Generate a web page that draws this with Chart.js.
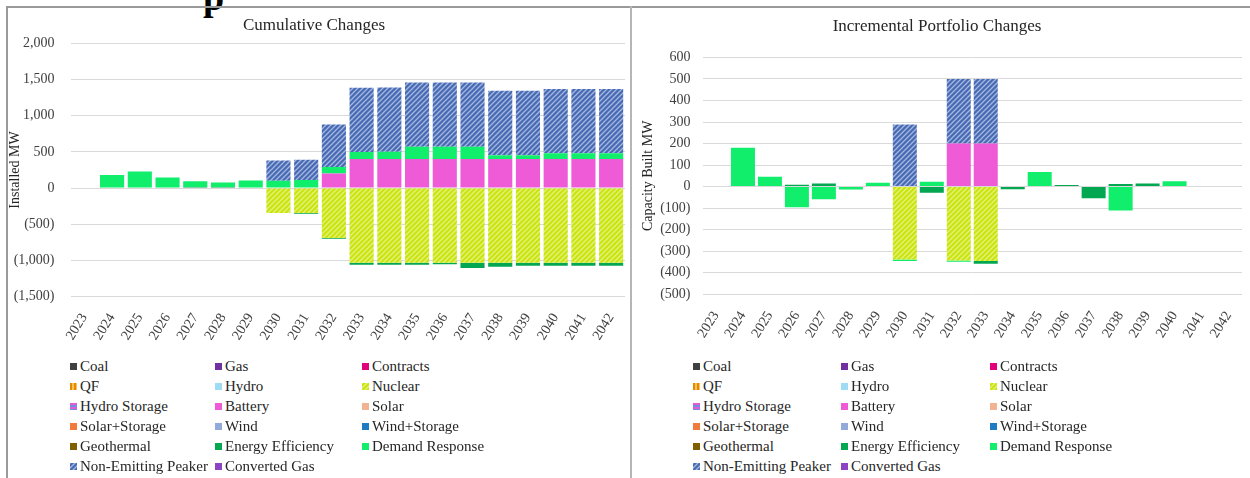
<!DOCTYPE html>
<html>
<head>
<meta charset="utf-8">
<script src="https://cdn.jsdelivr.net/npm/chart.js@4.4.1/dist/chart.umd.min.js"></script>
<style>
    html, body { margin: 0; padding: 0; background: #fff; }
    body { width: 1250px; height: 478px; position: relative; overflow: hidden;
           font-family: 'Liberation Serif', 'Times New Roman', serif; color: #262626; }
    .cut-head { position: absolute; left: 203px; top: -22px; font-size: 38px; font-weight: bold;
                line-height: 38px; color: #000; }
    .line { position: absolute; background: #9a9a9a; }
    canvas.chart { position: absolute; }
    .legend-item { position: absolute; font-size: 15px; line-height: 16px; white-space: nowrap;
                   height: 16px; display: flex; align-items: center; color: #262626; }
    .legend-item canvas { width: 7px; height: 7px; margin-right: 3px; }
</style>
</head>
<body>
<div class="cut-head">p</div>
<div class="line" style="left:6px; top:6px; width:1244px; height:2px;"></div>
<div class="line" style="left:6px; top:6px; width:2px; height:472px;"></div>
<div class="line" style="left:630px; top:6px; width:2px; height:472px; background:#b5b5b5;"></div>

<canvas id="cumulativeChart" class="chart" width="630" height="347" style="left:3px; top:8px;"></canvas>
<canvas id="incrementalChart" class="chart" width="618" height="347" style="left:632px; top:8px;"></canvas>
<div id="legendLeft"></div>
<div id="legendRight"></div>

<script>
'use strict';

const years = ['2023', '2024', '2025', '2026', '2027', '2028', '2029', '2030', '2031', '2032',
               '2033', '2034', '2035', '2036', '2037', '2038', '2039', '2040', '2041', '2042'];

const seriesNames = ['Coal', 'Gas', 'Contracts', 'QF', 'Hydro', 'Nuclear', 'Hydro Storage', 'Battery',
                     'Solar', 'Solar+Storage', 'Wind', 'Wind+Storage', 'Geothermal', 'Energy Efficiency',
                     'Demand Response', 'Non-Emitting Peaker', 'Converted Gas'];

const leftTicks = [2000, 1500, 1000, 500, 0, -500, -1000, -1500];
const rightTicks = [600, 500, 400, 300, 200, 100, 0, -100, -200, -300, -400, -500];

/* cumulative (MW) */
const cumNuclear = [0, 0, 0, 0, 0, 0, 0, -345, -345, -690, -1035, -1035, -1035, -1035, -1035, -1035, -1035, -1035, -1035, -1035];
const cumBattery = [0, 0, 0, 0, 0, 0, 0, 0, 0, 200, 400, 400, 400, 400, 400, 400, 400, 400, 400, 400];
const cumEnergyEfficiency = [0, 0, 0, 0, 15, 15, 0, 0, -10, -10, -25, -25, -25, -18, -70, -55, -40, -40, -40, -40];
const cumDemandResponse = [0, 180, 230, 145, 80, 63, 105, 100, 110, 90, 97, 100, 170, 170, 170, 55, 55, 80, 80, 80];
const cumPeaker = [0, 0, 0, 0, 0, 0, 0, 280, 280, 590, 890, 890, 890, 890, 890, 890, 890, 890, 890, 890];

/* incremental (MW) */
const incNuclear = [0, 0, 0, 0, 0, 0, 0, -338, 0, -343, -345, 0, 0, 0, 0, 0, 0, 0, 0, 0];
const incBattery = [0, 0, 0, 0, 0, 0, 0, 0, 0, 200, 200, 0, 0, 0, 0, 0, 0, 0, 0, 0];
const incEnergyEfficiency = [0, 0, 0, 9, 14, 0, 0, 0, -28, 0, -13, -12, 0, 8, -54, 12, 15, 0, 0, 0];
const incDemandResponse = [0, 180, 46, -96, -59, -13, 18, -7, 23, -6, 0, 0, 68, 0, 0, -111, 0, 25, 0, 0];
const incPeaker = [0, 0, 0, 0, 0, 0, 0, 288, 0, 300, 300, 0, 0, 0, 0, 0, 0, 0, 0, 0];

const cumulativeData = {
    'Nuclear': cumNuclear,
    'Battery': cumBattery,
    'Energy Efficiency': cumEnergyEfficiency,
    'Demand Response': cumDemandResponse,
    'Non-Emitting Peaker': cumPeaker
};
const incrementalData = {
    'Nuclear': incNuclear,
    'Battery': incBattery,
    'Energy Efficiency': incEnergyEfficiency,
    'Demand Response': incDemandResponse,
    'Non-Emitting Peaker': incPeaker
};

const FONT = "'Liberation Serif', 'Times New Roman', serif";
const textColor = '#404040';
const gridColor = '#d9d9d9';

function makePattern(base, stripe, kind) {
    const size = kind === 'diag' ? 5 : 4;
    const c = document.createElement('canvas');
    c.width = size; c.height = size;
    const g = c.getContext('2d');
    g.fillStyle = base;
    g.fillRect(0, 0, size, size);
    g.strokeStyle = stripe;
    g.fillStyle = stripe;
    if (kind === 'diag') {
        g.lineWidth = 1.3;
        g.beginPath();
        g.moveTo(0, size); g.lineTo(size, 0);
        g.moveTo(-1, 1); g.lineTo(1, -1);
        g.moveTo(size - 1, size + 1); g.lineTo(size + 1, size - 1);
        g.stroke();
    } else if (kind === 'vert') {
        g.fillRect(0, 0, 2, size);
    } else {
        g.fillRect(0, 0, size, 2);
    }
    return g.createPattern(c, 'repeat');
}

const seriesColors = {
    'Coal': '#404040',
    'Gas': '#7030a0',
    'Contracts': '#e3007d',
    'QF': makePattern('#f7c35a', '#e58a00', 'vert'),
    'Hydro': '#9fdcf3',
    'Nuclear': makePattern('#c9e40e', '#e4f27c', 'diag'),
    'Hydro Storage': makePattern('#6e8fe0', '#e45ad6', 'horiz'),
    'Battery': '#ef5ad7',
    'Solar': '#f3b292',
    'Solar+Storage': '#f07b3b',
    'Wind': '#93a9dc',
    'Wind+Storage': '#1d7cc2',
    'Geothermal': '#7f6000',
    'Energy Efficiency': '#03a651',
    'Demand Response': '#10ee6c',
    'Non-Emitting Peaker': makePattern('#476ab3', '#a5b8e2', 'diag'),
    'Converted Gas': '#8d44c2'
};

function fmtTick(value) {
    const s = Math.abs(value).toLocaleString('en-US');
    return value < 0 ? '(' + s + ')' : s;
}

function buildChart(canvasId, dataMap, cfg) {
    const datasets = seriesNames.map(name => ({
        label: name,
        data: dataMap[name] || [],
        backgroundColor: seriesColors[name],
        borderWidth: 0,
        categoryPercentage: 1,
        barPercentage: cfg.barPct
    }));

    return new Chart(document.getElementById(canvasId), {
        type: 'bar',
        data: { labels: years, datasets: datasets },
        options: {
            responsive: false,
            animation: false,
            layout: { padding: { left: cfg.padLeft, right: cfg.padRight, top: 0, bottom: 0 } },
            plugins: {
                legend: { display: false },
                tooltip: { enabled: false },
                title: {
                    display: true,
                    text: cfg.title,
                    color: '#262626',
                    font: { family: FONT, size: 17, weight: 'normal' },
                    padding: { top: cfg.titleTop, bottom: cfg.titleBottom }
                }
            },
            scales: {
                x: {
                    stacked: true,
                    grid: { display: false },
                    border: { display: false },
                    ticks: {
                        color: textColor,
                        font: { family: FONT, size: 14 },
                        minRotation: 58,
                        maxRotation: 58,
                        padding: 6,
                        autoSkip: false
                    },
                    afterFit: s => { s.height = cfg.xHeight; }
                },
                y: {
                    stacked: true,
                    min: cfg.min,
                    max: cfg.max,
                    afterBuildTicks: s => { s.ticks = cfg.ticks.map(v => ({ value: v })); },
                    grid: { color: gridColor, lineWidth: 1, drawTicks: false },
                    border: { display: false },
                    ticks: {
                        color: textColor,
                        font: { family: FONT, size: 14 },
                        padding: cfg.tickPad,
                        callback: fmtTick
                    },
                    title: {
                        display: true,
                        text: cfg.yTitle,
                        color: '#262626',
                        font: { family: FONT, size: 14 },
                        padding: { top: cfg.yTitlePad, bottom: 0 }
                    },
                    afterFit: s => { s.width = cfg.yWidth; }
                }
            }
        }
    });
}

buildChart('cumulativeChart', cumulativeData, {
    title: 'Cumulative Changes', yTitle: 'Installed MW',
    min: -1500, max: 2000, ticks: leftTicks,
    barPct: 0.87, padLeft: 0, padRight: 8, titleTop: 7, titleBottom: 8,
    xHeight: 58.5, yWidth: 67.5, tickPad: 16, yTitlePad: 4
});

buildChart('incrementalChart', incrementalData, {
    title: 'Incremental Portfolio Changes', yTitle: 'Capacity Built MW',
    min: -500, max: 600, ticks: rightTicks,
    barPct: 0.89, padLeft: 0, padRight: 8, titleTop: 8, titleBottom: 21,
    xHeight: 60.7, yWidth: 70.5, tickPad: 12, yTitlePad: 8
});

/* html legends, three columns */
function buildLegend(containerId, colX) {
    const box = document.getElementById(containerId);
    seriesNames.forEach((name, i) => {
        const col = i % 3;
        const row = Math.floor(i / 3);
        const item = document.createElement('div');
        item.className = 'legend-item';
        item.style.left = colX[col] + 'px';
        item.style.top = (358 + row * 20) + 'px';

        const sw = document.createElement('canvas');
        sw.width = 7; sw.height = 7;
        const g = sw.getContext('2d');
        g.fillStyle = seriesColors[name];
        g.fillRect(0, 0, 7, 7);
        item.appendChild(sw);

        const label = document.createElement('span');
        label.textContent = name;
        item.appendChild(label);
        box.appendChild(item);
    });
}

buildLegend('legendLeft', [70, 215, 362]);
buildLegend('legendRight', [693, 841, 990]);
</script>
</body>
</html>
